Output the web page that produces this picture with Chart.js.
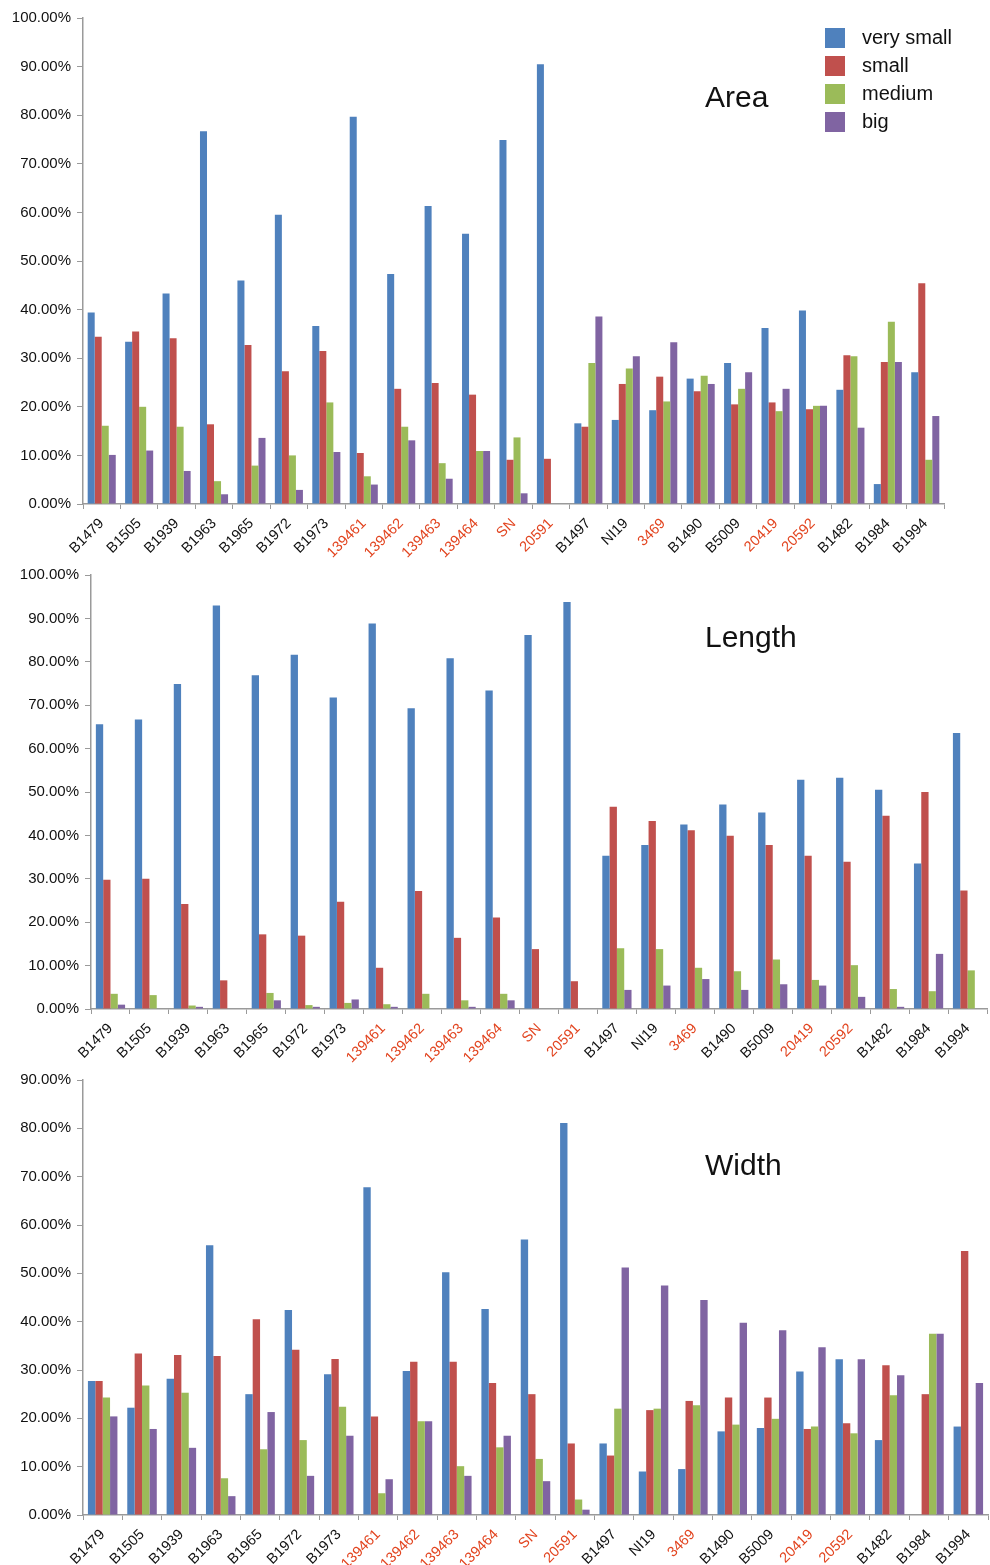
<!DOCTYPE html>
<html>
<head>
<meta charset="utf-8">
<script src="https://cdn.jsdelivr.net/npm/chart.js@4.4.0/dist/chart.umd.min.js"></script>
<style>
  body { margin: 0; background: #fff; width: 990px; height: 1565px; position: relative; overflow: hidden; }
  canvas { position: absolute; left: 0; }
</style>
</head>
<body>
<canvas id="areaChart" width="990" height="560" style="top:0"></canvas>
<canvas id="lengthChart" width="990" height="505" style="top:560px"></canvas>
<canvas id="widthChart" width="990" height="500" style="top:1065px"></canvas>
<script>
const categories = ['B1479', 'B1505', 'B1939', 'B1963', 'B1965', 'B1972', 'B1973', '139461', '139462', '139463', '139464', 'SN', '20591', 'B1497', 'NI19', '3469', 'B1490', 'B5009', '20419', '20592', 'B1482', 'B1984', 'B1994'];
const redCategories = ['139461', '139462', '139463', '139464', 'SN', '20591', '3469', '20419', '20592'];
const seriesNames = ['very small', 'small', 'medium', 'big'];

const areaVerySmall = [39.4, 33.4, 43.3, 76.7, 46.0, 59.5, 36.6, 79.7, 47.3, 61.3, 55.6, 74.9, 90.5, 16.6, 17.3, 19.3, 25.8, 29.0, 36.2, 39.8, 23.5, 4.1, 27.1];
const areaSmall = [34.4, 35.5, 34.1, 16.4, 32.7, 27.3, 31.5, 10.5, 23.7, 24.9, 22.5, 9.1, 9.3, 15.9, 24.7, 26.2, 23.2, 20.5, 20.9, 19.5, 30.6, 29.2, 45.4];
const areaMedium = [16.1, 20.0, 15.9, 4.7, 7.9, 10.0, 20.9, 5.7, 15.9, 8.4, 10.9, 13.7, 0, 29.0, 27.9, 21.1, 26.4, 23.7, 19.1, 20.2, 30.4, 37.5, 9.1];
const areaBig = [10.1, 11.0, 6.8, 2.0, 13.6, 2.9, 10.7, 4.0, 13.1, 5.2, 10.9, 2.2, 0, 38.6, 30.4, 33.3, 24.7, 27.1, 23.7, 20.2, 15.7, 29.2, 18.1];

const lengthVerySmall = [65.6, 66.7, 74.9, 93.0, 76.9, 81.6, 71.8, 88.8, 69.3, 80.8, 73.4, 86.2, 93.8, 35.3, 37.8, 42.5, 47.1, 45.3, 52.8, 53.3, 50.5, 33.5, 63.6];
const lengthSmall = [29.8, 30.0, 24.2, 6.6, 17.2, 16.9, 24.7, 9.5, 27.2, 16.4, 21.1, 13.8, 6.4, 46.6, 43.3, 41.2, 39.9, 37.8, 35.3, 33.9, 44.5, 50.0, 27.3];
const lengthMedium = [3.5, 3.2, 0.8, 0, 3.7, 0.9, 1.4, 1.1, 3.5, 2.0, 3.5, 0, 0, 14.0, 13.8, 9.5, 8.7, 11.4, 6.7, 10.1, 4.6, 4.1, 8.9];
const lengthBig = [1.0, 0, 0.5, 0, 2.0, 0.5, 2.2, 0.5, 0, 0.5, 2.0, 0, 0, 4.4, 5.4, 6.9, 4.4, 5.7, 5.4, 2.8, 0.5, 12.7, 0];

const widthVerySmall = [27.7, 22.2, 28.2, 55.8, 25.0, 42.4, 29.1, 67.8, 29.8, 50.2, 42.6, 57.0, 81.1, 14.8, 9.0, 9.5, 17.3, 18.0, 29.7, 32.2, 15.5, 0, 18.3];
const widthSmall = [27.7, 33.4, 33.1, 32.9, 40.5, 34.2, 32.3, 20.4, 31.7, 31.7, 27.3, 25.0, 14.8, 12.3, 21.7, 23.6, 24.3, 24.3, 17.8, 19.0, 31.0, 25.0, 54.6];
const widthMedium = [24.3, 26.8, 25.3, 7.6, 13.6, 15.5, 22.4, 4.5, 19.4, 10.1, 14.0, 11.6, 3.2, 22.0, 22.0, 22.7, 18.7, 19.9, 18.3, 16.9, 24.8, 37.5, 0];
const widthBig = [20.4, 17.8, 13.9, 3.9, 21.3, 8.1, 16.4, 7.4, 19.4, 8.1, 16.4, 7.0, 1.1, 51.2, 47.5, 44.5, 39.8, 38.2, 34.7, 32.2, 28.9, 37.5, 27.3];

const colors = ['#4F81BD', '#C0504D', '#9BBB59', '#8064A2'];
const FONT = '"Liberation Sans", Arial, sans-serif';

// draws the big title text and (optionally) the legend inside the plot
const overlay = {
    id: 'overlay',
    afterDraw(chart, args, opts) {
        const c = chart.ctx;
        c.save();
        c.fillStyle = '#111';
        c.font = opts.titleSize + 'px ' + FONT;
        c.textBaseline = 'alphabetic';
        c.textAlign = 'left';
        c.fillText(opts.title, opts.titleX, opts.titleY);
        if (opts.legend) {
            chart.data.datasets.forEach((ds, i) => {
                const cy = 38 + i * 28;
                c.fillStyle = ds.backgroundColor;
                c.fillRect(825, cy - 10, 20, 20);
                c.fillStyle = '#111';
                c.font = '20px ' + FONT;
                c.textBaseline = 'middle';
                c.fillText(ds.label, 862, cy);
            });
        }
        c.restore();
    }
};

function makeChart(id, series, opt) {
    const ctx = document.getElementById(id).getContext('2d');
    return new Chart(ctx, {
        type: 'bar',
        data: {
            labels: categories,
            datasets: series.map((s, i) => ({
                label: seriesNames[i],
                data: s,
                backgroundColor: colors[i],
                categoryPercentage: 0.75,
                barPercentage: 1.0
            }))
        },
        options: {
            responsive: false,
            animation: false,
            layout: {
                padding: { left: 0, top: opt.top, right: opt.right, bottom: 0 }
            },
            scales: {
                x: {
                    grid: {
                        display: true,
                        drawOnChartArea: false,
                        drawTicks: true,
                        tickLength: 5,
                        color: '#9a9a9a'
                    },
                    border: { display: true, color: '#9a9a9a', width: 1.5 },
                    ticks: {
                        autoSkip: false,
                        minRotation: 45,
                        maxRotation: 45,
                        padding: 6,
                        font: { family: FONT, size: 14.5 },
                        color: function(c) {
                            return redCategories.includes(categories[c.index]) ? '#E2441F' : '#111';
                        }
                    },
                    afterFit: function(scale) { scale.height = opt.xHeight; }
                },
                y: {
                    min: 0,
                    max: opt.max,
                    grid: {
                        display: true,
                        drawOnChartArea: false,
                        drawTicks: true,
                        tickLength: 6,
                        color: '#9a9a9a'
                    },
                    border: { display: true, color: '#9a9a9a', width: 1.5 },
                    ticks: {
                        stepSize: 10,
                        padding: 6,
                        font: { family: FONT, size: 15 },
                        color: '#111',
                        callback: v => v.toFixed(2) + '%'
                    },
                    afterFit: function(scale) { scale.width = opt.left; }
                }
            },
            plugins: {
                legend: { display: false },
                tooltip: { enabled: false },
                overlay: {
                    title: opt.title,
                    titleX: 705,
                    titleY: opt.titleY,
                    titleSize: 30,
                    legend: opt.legend
                }
            }
        },
        plugins: [overlay]
    });
}

makeChart('areaChart', [areaVerySmall, areaSmall, areaMedium, areaBig],
    { top: 18, right: 46, left: 83, xHeight: 56, max: 100, title: 'Area', titleY: 107, legend: true });
makeChart('lengthChart', [lengthVerySmall, lengthSmall, lengthMedium, lengthBig],
    { top: 13, right: 3, left: 91, xHeight: 56, max: 100, title: 'Length', titleY: 87, legend: false });
makeChart('widthChart', [widthVerySmall, widthSmall, widthMedium, widthBig],
    { top: 14, right: 2, left: 83, xHeight: 50, max: 90, title: 'Width', titleY: 110, legend: false });
</script>
</body>
</html>
